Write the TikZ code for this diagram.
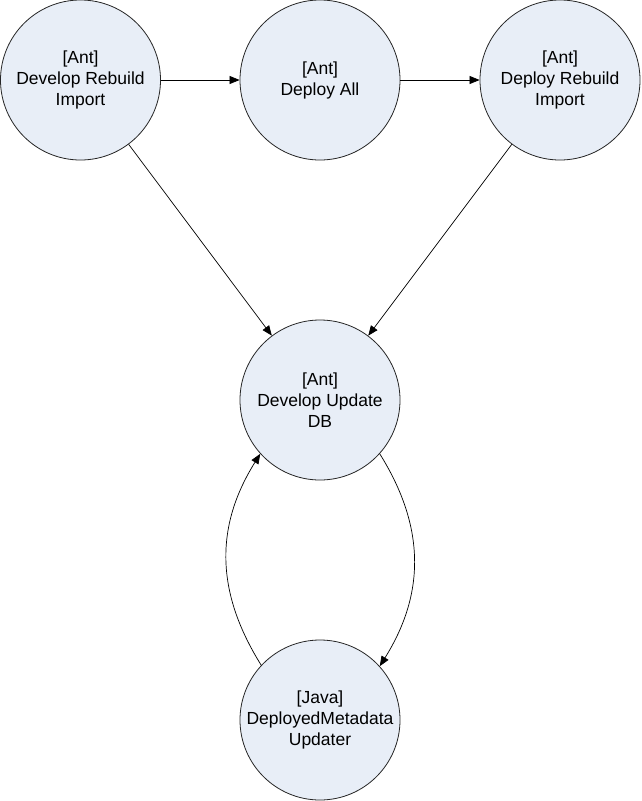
\documentclass[tikz,border=0pt]{standalone}
\usepackage{fontspec}
\setmainfont{Liberation Sans}
\usetikzlibrary{arrows.meta}
\begin{document}
\begin{tikzpicture}[x=1pt,y=-1pt,
  task/.style={circle, draw=black!85, line width=0.8pt, fill={rgb,255:red,232;green,238;blue,247},
    minimum size=160pt, inner sep=0pt, align=center, font=\fontsize{17.5}{21}\selectfont},
  conn/.style={line width=0.7pt, -{Triangle[length=10pt,width=8pt]}}]
\useasboundingbox (0,0) rectangle (641,801);
\node[task] (dri) at (80.5,80) {[Ant]\\Develop Rebuild\\Import};
\node[task] (da) at (320,80) {[Ant]\\Deploy All};
\node[task] (dpri) at (560,80) {[Ant]\\Deploy Rebuild\\Import};
\node[task] (dudb) at (320,400) {[Ant]\\Develop Update\\DB};
\node[task] (dmu) at (320,720) {[Java]\\DeployedMetadata\\Updater};
\draw[conn] (dri) -- (da);
\draw[conn] (da) -- (dpri);
\draw[conn] (dri) -- (dudb);
\draw[conn] (dpri) -- (dudb);
\draw[conn] (dudb.-42.5) to[out=-58, in=58, distance=86pt] (dmu.42.5);
\draw[conn] (dmu.137.5) to[out=122, in=-122, distance=86pt] (dudb.222.5);
\end{tikzpicture}
\end{document}
